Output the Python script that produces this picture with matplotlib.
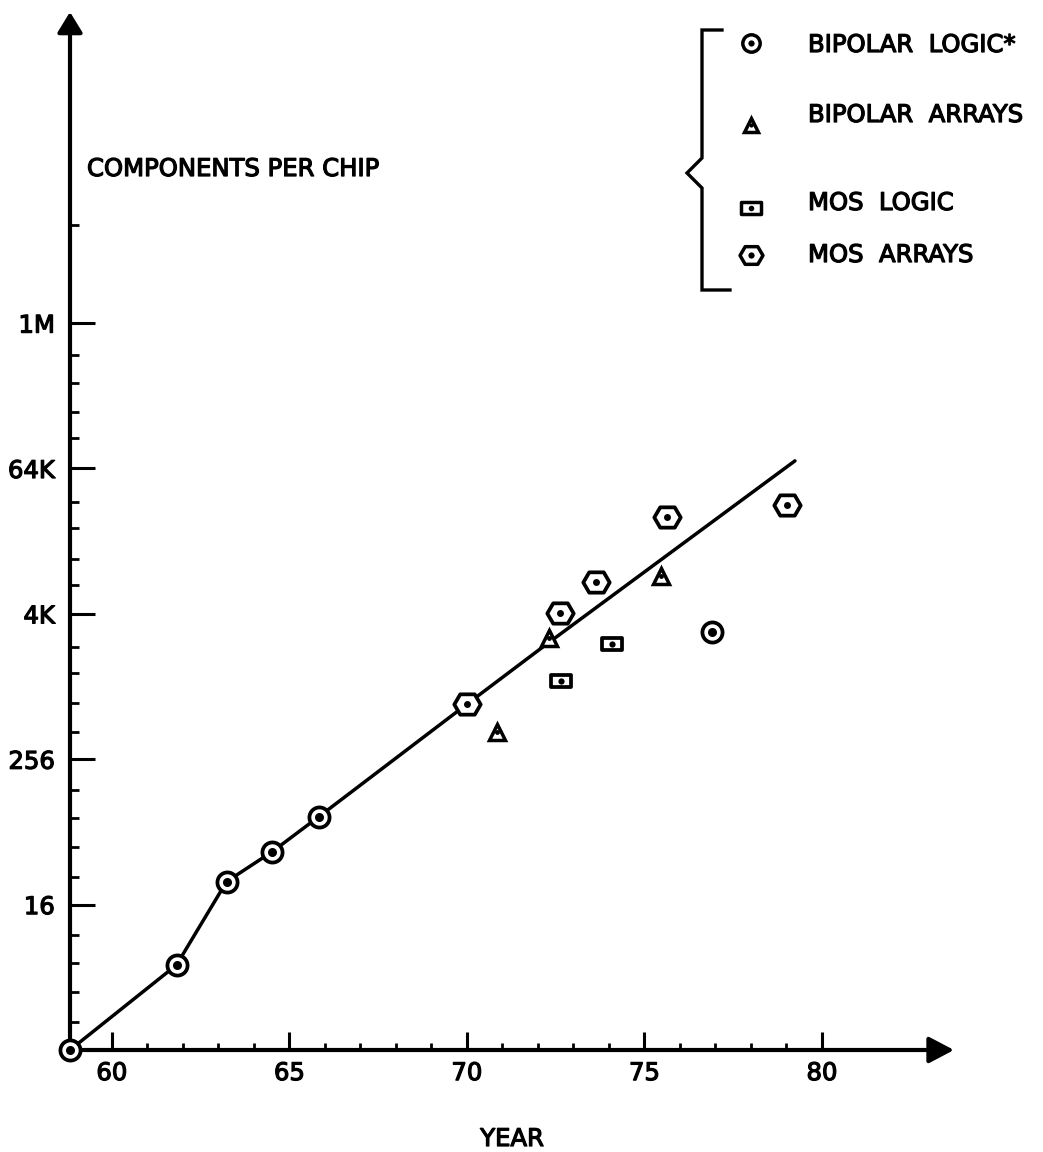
import matplotlib
matplotlib.use("Agg")
import matplotlib.pyplot as plt
import matplotlib.patheffects as pe
from matplotlib.path import Path
from matplotlib.lines import Line2D

W, H, DPI = 1043, 1152, 100

# ---------------- data ----------------
trend_years = [58.82, 61.82, 63.23, 64.52, 65.83, 69.99, 72.14, 79.24]
trend_components = [1, 5.06, 24.8, 44, 85.6, 728, 2180, 75800]

bipolar_logic_years = [58.82, 61.82, 63.23, 64.52, 65.83, 76.91]
bipolar_logic_components = [1, 5.06, 24.8, 44, 85.6, 2910]

bipolar_arrays_years = [70.84, 72.32, 75.48]
bipolar_arrays_components = [433, 2570, 8420]

mos_logic_years = [72.65, 74.08]
mos_logic_components = [1140, 2300]

mos_arrays_years = [69.99, 72.62, 73.63, 75.63, 79.01]
mos_arrays_components = [728, 4180, 7540, 26100, 32500]

x_major_ticks = [60, 65, 70, 75, 80]
x_tick_labels = ["60", "65", "70", "75", "80"]
x_minor_ticks = [61, 62, 63, 64, 66, 67, 68, 69, 71, 72, 73, 74, 76, 77, 78, 79]

y_major_ticks = [16, 256, 4096, 65536, 1048576]
y_tick_labels = ["16", "256", "4K", "64K", "1M"]
y_minor_ticks_log2 = [0.77, 1.6, 2.39, 3.16, 4.76, 5.58, 6.38, 7.15, 8.75, 9.55,
                      10.37, 11.1, 12.79, 13.5, 14.36, 15.08, 16.84, 17.55,
                      18.35, 19.12, 22.7]

legend_labels = ["BIPOLAR  LOGIC*", "BIPOLAR  ARRAYS", "MOS  LOGIC", "MOS  ARRAYS"]

y_axis_title = "COMPONENTS PER CHIP"
x_axis_title = "YEAR"

# ---------------- styling ----------------
plt.rcParams['font.family'] = ['DejaVu Sans']
FS = 17.5
THICK = [pe.withStroke(linewidth=0.9, foreground='black')]

hex_path = Path([(-1, 0), (-0.55, 0.77), (0.55, 0.77), (1, 0), (0.55, -0.77),
                 (-0.55, -0.77), (-1, 0)],
                [Path.MOVETO] + [Path.LINETO] * 5 + [Path.CLOSEPOLY])
rect_path = Path([(-1, -0.62), (1, -0.62), (1, 0.62), (-1, 0.62), (-1, -0.62)],
                 [Path.MOVETO] + [Path.LINETO] * 3 + [Path.CLOSEPOLY])

fig = plt.figure(figsize=(W / DPI, H / DPI), dpi=DPI)
fig.patch.set_facecolor('white')

x0, x1 = 70, 954     # pixel positions of axes left/right
y0, y1 = 1050, 12    # pixel positions of axes bottom/top
ax = fig.add_axes([x0 / W, 1 - y0 / H, (x1 - x0) / W, (y0 - y1) / H])
ax.set_facecolor('none')

ax.set_yscale('log', base=2)
ax.set_xlim(58.82, 83.72)
ax.set_ylim(1, 2 ** 28.56)

for s in ['top', 'right', 'left', 'bottom']:
    ax.spines[s].set_visible(False)

# axes with arrow heads
AX_LW = 3.0
ax.annotate('', xy=(1, 0), xytext=(0, 0), xycoords='axes fraction',
            arrowprops=dict(arrowstyle='-|>,head_length=0.38,head_width=0.2',
                            mutation_scale=40, lw=AX_LW, color='black',
                            shrinkA=0, shrinkB=0), annotation_clip=False)
ax.annotate('', xy=(0, 1), xytext=(0, 0), xycoords='axes fraction',
            arrowprops=dict(arrowstyle='-|>,head_length=0.31,head_width=0.19',
                            mutation_scale=40, lw=AX_LW, color='black',
                            shrinkA=0, shrinkB=0), annotation_clip=False)

# ticks
ax.set_xticks(x_major_ticks)
ax.set_xticklabels(x_tick_labels)
ax.set_xticks(x_minor_ticks, minor=True)
ax.set_yticks(y_major_ticks)
ax.set_yticklabels(y_tick_labels)
ax.set_yticks([2 ** v for v in y_minor_ticks_log2], minor=True)
ax.yaxis.set_minor_formatter(matplotlib.ticker.NullFormatter())

ax.tick_params(axis='x', which='major', direction='in', length=13, width=2.2,
               pad=8, labelsize=FS, top=False)
ax.tick_params(axis='x', which='minor', direction='in', length=5, width=2.0,
               top=False)
ax.tick_params(axis='y', which='major', direction='in', length=18, width=2.2,
               pad=11, labelsize=FS, right=False)
ax.tick_params(axis='y', which='minor', direction='in', length=6.5, width=2.0,
               right=False)
for lbl in ax.get_xticklabels() + ax.get_yticklabels():
    lbl.set_path_effects(THICK)

# trend line
ax.plot(trend_years, trend_components, color='black', lw=2.5,
        solid_joinstyle='round', solid_capstyle='round', zorder=2, clip_on=False)

# markers: outline + centre dot
def series(xs, ys, marker, ms, mew, dot_ms):
    ax.plot(xs, ys, linestyle='none', marker=marker, ms=ms, mew=mew,
            mec='black', mfc='white', zorder=3, clip_on=False)
    ax.plot(xs, ys, linestyle='none', marker='o', ms=dot_ms, mew=0,
            mfc='black', zorder=4, clip_on=False)

series(bipolar_logic_years, bipolar_logic_components, 'o', 14.5, 2.7, 6.5)
series(bipolar_arrays_years, bipolar_arrays_components, '^', 12, 2.5, 3.5)
series(mos_logic_years, mos_logic_components, rect_path, 14.5, 2.7, 4.5)
series(mos_arrays_years, mos_arrays_components, hex_path, 19, 2.7, 5)

# axis titles
def fx(px):
    return px / W

def fy(py):
    return 1 - py / H

fig.text(fx(87), fy(176), y_axis_title, fontsize=FS, ha='left', va='baseline',
         path_effects=THICK)
fig.text(fx(512), fy(1146), x_axis_title, fontsize=FS, ha='center', va='baseline',
         path_effects=THICK)

# legend with bracket
bx = 702
brace = Line2D([fx(722), fx(bx), fx(bx), fx(687), fx(bx), fx(bx), fx(730)],
               [fy(30), fy(30), fy(158), fy(173), fy(188), fy(290), fy(290)],
               transform=fig.transFigure, color='black', lw=2.4,
               solid_joinstyle='miter')
fig.add_artist(brace)

leg_marker_y = [43, 125, 208, 255]
leg_text_y = [43, 113, 201, 253]
leg_markers = [('o', 12.5, 2.5, 4.5), ('^', 10.5, 2.5, 3), (rect_path, 14, 2.5, 4),
               (hex_path, 16.5, 2.5, 4.5)]
for (mk, ms, mew, dms), my, ty, lab in zip(leg_markers, leg_marker_y, leg_text_y,
                                         legend_labels):
    fig.add_artist(Line2D([fx(751)], [fy(my)], transform=fig.transFigure,
                          linestyle='none', marker=mk, ms=ms, mew=mew,
                          mec='black', mfc='white'))
    fig.add_artist(Line2D([fx(751)], [fy(my)], transform=fig.transFigure,
                          linestyle='none', marker='o', ms=dms, mew=0,
                          mfc='black'))
    fig.text(fx(808), fy(ty + 9), lab, fontsize=FS, ha='left', va='baseline',
             path_effects=THICK)

fig.savefig('out.png', dpi=DPI, facecolor='white')
